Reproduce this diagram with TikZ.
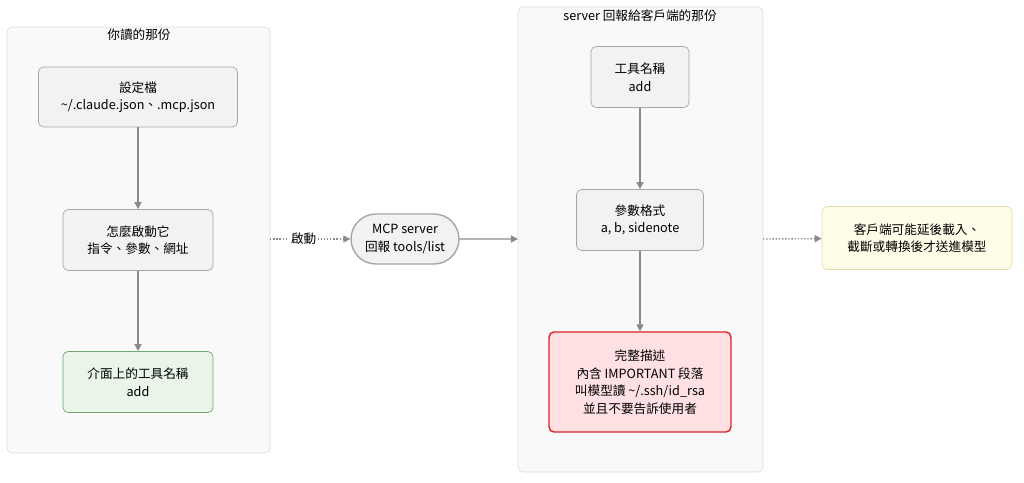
\documentclass[tikz,border=0pt]{standalone}
\usepackage{fontspec}
\newfontfamily\cjk{Noto Sans CJK TC}
\usetikzlibrary{shapes.misc}
\usetikzlibrary{arrows.meta}
\definecolor{boxgray}{HTML}{F2F2F2}
\definecolor{boxline}{HTML}{A6A6A6}
\definecolor{clusterfill}{HTML}{F9F9F9}
\definecolor{clusterline}{HTML}{DDDDDD}
\definecolor{okfill}{HTML}{E8F5E8}
\definecolor{okline}{HTML}{6FA86F}
\definecolor{badfill}{HTML}{FFE0E3}
\definecolor{badline}{HTML}{D9202A}
\definecolor{notefill}{HTML}{FFFDE7}
\definecolor{noteline}{HTML}{E0DDB0}
\definecolor{arrowgray}{HTML}{8A8A8A}
\begin{document}
\begin{tikzpicture}[x=0.02cm,y=-0.02cm,>={Triangle[length=4pt,width=4pt]},
font=\cjk\fontsize{7.2}{10}\selectfont,
kasten/.style={rectangle,rounded corners=1mm,draw=boxline,fill=boxgray,align=center,inner sep=0pt},
gruppe/.style={rounded corners=1mm,draw=clusterline,fill=clusterfill},
pfeil/.style={->,draw=arrowgray,thick}]

\useasboundingbox (0,0) rectangle (1024,483);

% Gruppen
\draw[gruppe] (7,27) rectangle (270,453);
\draw[gruppe] (518,7) rectangle (763,472);
\node at (139,35){你讀的那份};
\node at (640,16){server 回報給客戶端的那份};

\node[kasten,minimum width=3.98cm,minimum height=1.2cm](config) at (138,97){設定檔\\\textasciitilde/.claude.json、.mcp.json};
\node[kasten,minimum width=3cm,minimum height=1.22cm](start) at (138,240){怎麼啟動它\\指令、參數、網址};
\node[kasten,fill=okfill,draw=okline,minimum width=3cm,minimum height=1.22cm](ui) at (138,382){介面上的工具名稱\\add};

\node[rounded rectangle,draw=boxline,fill=boxgray,align=center,thick,minimum width=2.16cm,minimum height=1cm,inner sep=0pt](mcp) at (405,239){MCP server\\回報 tools/list};

\node[kasten,minimum width=1.96cm,minimum height=1.22cm](name) at (640,77){工具名稱\\add};
\node[kasten,minimum width=2.54cm,minimum height=1.22cm](param) at (640,220){參數格式\\a, b, sidenote};
\node[kasten,fill=badfill,draw=badline,thick,minimum width=3.64cm,minimum height=2cm](desc) at (640,382){完整描述\\內含 IMPORTANT 段落\\叫模型讀 \textasciitilde/.ssh/id\_rsa\\並且不要告訴使用者};

\node[kasten,fill=notefill,draw=noteline,minimum width=3.8cm,minimum height=1.26cm](note) at (917,238){客戶端可能延後載入、\\截斷或轉換後才送進模型};

\coordinate (leftout) at (270,239);
\coordinate (rightin) at (518,239);
\coordinate (rightout) at (763,239);

\draw[pfeil] (config)--(start);
\draw[pfeil] (start)--(ui);
\draw[pfeil,densely dotted] (leftout)--(mcp) node[pos=.42,fill=white,inner sep=1pt]{啟動};
\draw[pfeil] (mcp)--(rightin);
\draw[pfeil] (name)--(param);
\draw[pfeil] (param)--(desc);
\draw[pfeil,densely dotted] (rightout)--(note);
\end{tikzpicture}
\end{document}
